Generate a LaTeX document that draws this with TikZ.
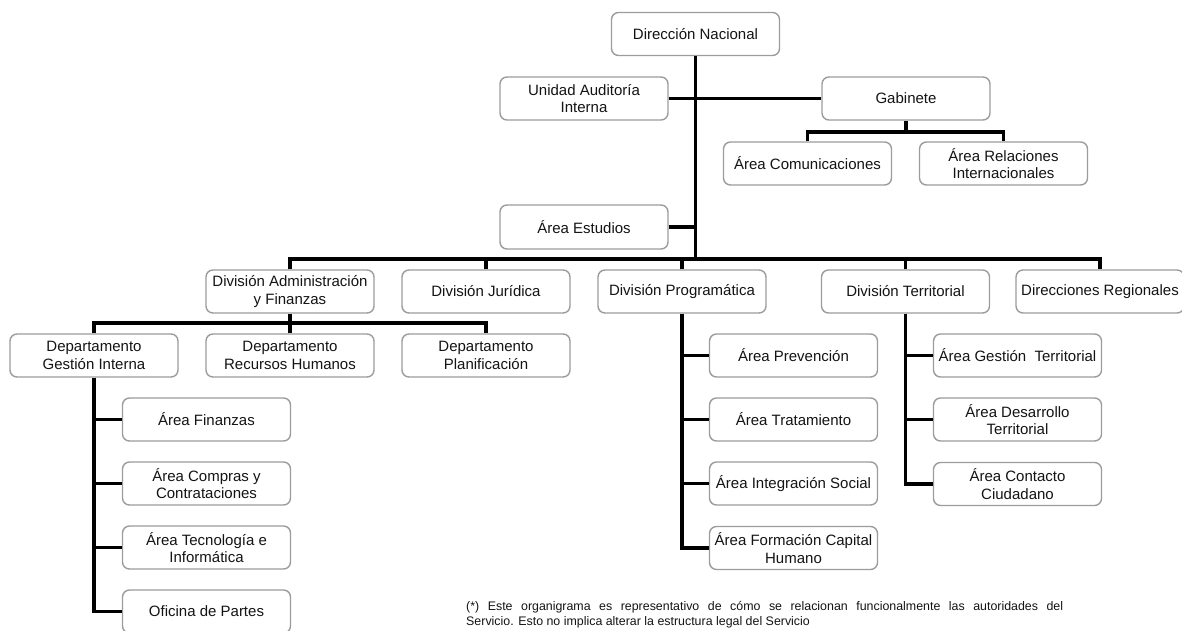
\documentclass[tikz,border=0pt]{standalone}
\usepackage{fontspec}
\setmainfont{Liberation Sans}
\definecolor{boxgray}{HTML}{9C9C9C}
\definecolor{txt}{HTML}{141414}
\tikzset{
  box/.style={draw=boxgray, line width=1.4pt, rounded corners=7pt, fill=white,
    minimum width=168pt, minimum height=43pt, inner sep=1pt, align=center,
    text=txt, font=\fontsize{15}{17.5}\selectfont},
  link/.style={line width=3.8pt, draw=black, line join=miter},
  note/.style={anchor=north west, align=justify, text width=597pt, inner sep=0pt, text=txt,
    font=\fontsize{12.4}{15}\selectfont}
}
\begin{document}
\begin{tikzpicture}[x=1pt,y=-1pt]
\fill[white] (0,0) rectangle (1182,631);
\useasboundingbox (0,0) rectangle (1182,631);

% top level
\node[box] (dn)   at (695.5,34)   {Dirección Nacional};
\node[box] (uai)  at (584,98.5)   {Unidad Auditoría\\Interna};
\node[box] (gab)  at (906,98.5)   {Gabinete};
\node[box] (acom) at (807.5,163.5) {Área Comunicaciones};
\node[box] (arel) at (1003.5,163.5) {Área Relaciones\\Internacionales};
\node[box, minimum height=44pt] (aest) at (584,227) {Área Estudios};

% divisions
\node[box] (daf)  at (290,291.5)   {División Administración\\y Finanzas};
\node[box] (djur) at (486,291.5)   {División Jurídica};
\node[box] (dprog) at (682,291.5)  {División Programática};
\node[box] (dter) at (905.5,291.5) {División Territorial};
\node[box] (dreg) at (1100,291.5)  {Direcciones Regionales};

% departments
\node[box] (dgi)   at (94,355.5)  {Departamento\\Gestión Interna};
\node[box] (drh)   at (290,355.5) {Departamento\\Recursos Humanos};
\node[box] (dplan) at (486,355.5) {Departamento\\Planificación};

% areas under Gestión Interna
\node[box] (afin)  at (206.5,419.5) {Área Finanzas};
\node[box] (acomp) at (206.5,483.5) {Área Compras y\\Contrataciones};
\node[box] (atec)  at (206.5,547.5) {Área Tecnología e\\Informática};
\node[box] (aofi)  at (206.5,611.5) {Oficina de Partes};

% areas under Programática
\node[box] (aprev)  at (793.5,355.5) {Área Prevención};
\node[box] (atrat)  at (793.5,419.5) {Área Tratamiento};
\node[box] (ainteg) at (793.5,483.5) {Área Integración Social};
\node[box] (aform)  at (793.5,548)   {Área Formación Capital\\Humano};

% areas under Territorial
\node[box] (agt) at (1017.5,355.5) {Área Gestión~ Territorial};
\node[box] (adt) at (1017.5,419.5) {Área Desarrollo\\Territorial};
\node[box] (acc) at (1017.5,484)   {Área Contacto\\Ciudadano};

% bus coordinates
\coordinate (mb) at (695,259);
\coordinate (gb) at (906,132);
\coordinate (db) at (290,323);

% connectors
\draw[link] (dn.south) -- (dn.south |- mb);
\draw[link] (uai.east) -- (uai.east -| gab.west);
\draw[link] (aest.east) -- (aest.east -| dn.south);
\draw[link] (gab.south) -- (gb);
\draw[link] (acom.north) -- (acom.north |- gb) -- (arel.north |- gb) -- (arel.north);

\draw[link] (daf.north) -- (daf.north |- mb) -- (dreg.north |- mb) -- (dreg.north);
\draw[link] (djur.north) -- (djur.north |- mb);
\draw[link] (dprog.north) -- (dprog.north |- mb);
\draw[link] (dter.north) -- (dter.north |- mb);

\draw[link] (daf.south) -- (db);
\draw[link] (dgi.north) -- (dgi.north |- db) -- (dplan.north |- db) -- (dplan.north);
\draw[link] (drh.north) -- (drh.north |- db);

\draw[link] (dgi.south) |- (aofi.west);
\draw[link] (afin.west) -- (afin.west -| dgi.south);
\draw[link] (acomp.west) -- (acomp.west -| dgi.south);
\draw[link] (atec.west) -- (atec.west -| dgi.south);

\draw[link] (dprog.south) |- (aform.west);
\draw[link] (aprev.west) -- (aprev.west -| dprog.south);
\draw[link] (atrat.west) -- (atrat.west -| dprog.south);
\draw[link] (ainteg.west) -- (ainteg.west -| dprog.south);

\draw[link] (dter.south) |- (acc.west);
\draw[link] (agt.west) -- (agt.west -| dter.south);
\draw[link] (adt.west) -- (adt.west -| dter.south);

% footnote
\node[note] (fn) at (466,601.5) {(*) Este organigrama es representativo de cómo se relacionan funcionalmente las autoridades del\linebreak Servicio. Esto no implica alterar la estructura legal del Servicio};
\end{tikzpicture}
\end{document}
